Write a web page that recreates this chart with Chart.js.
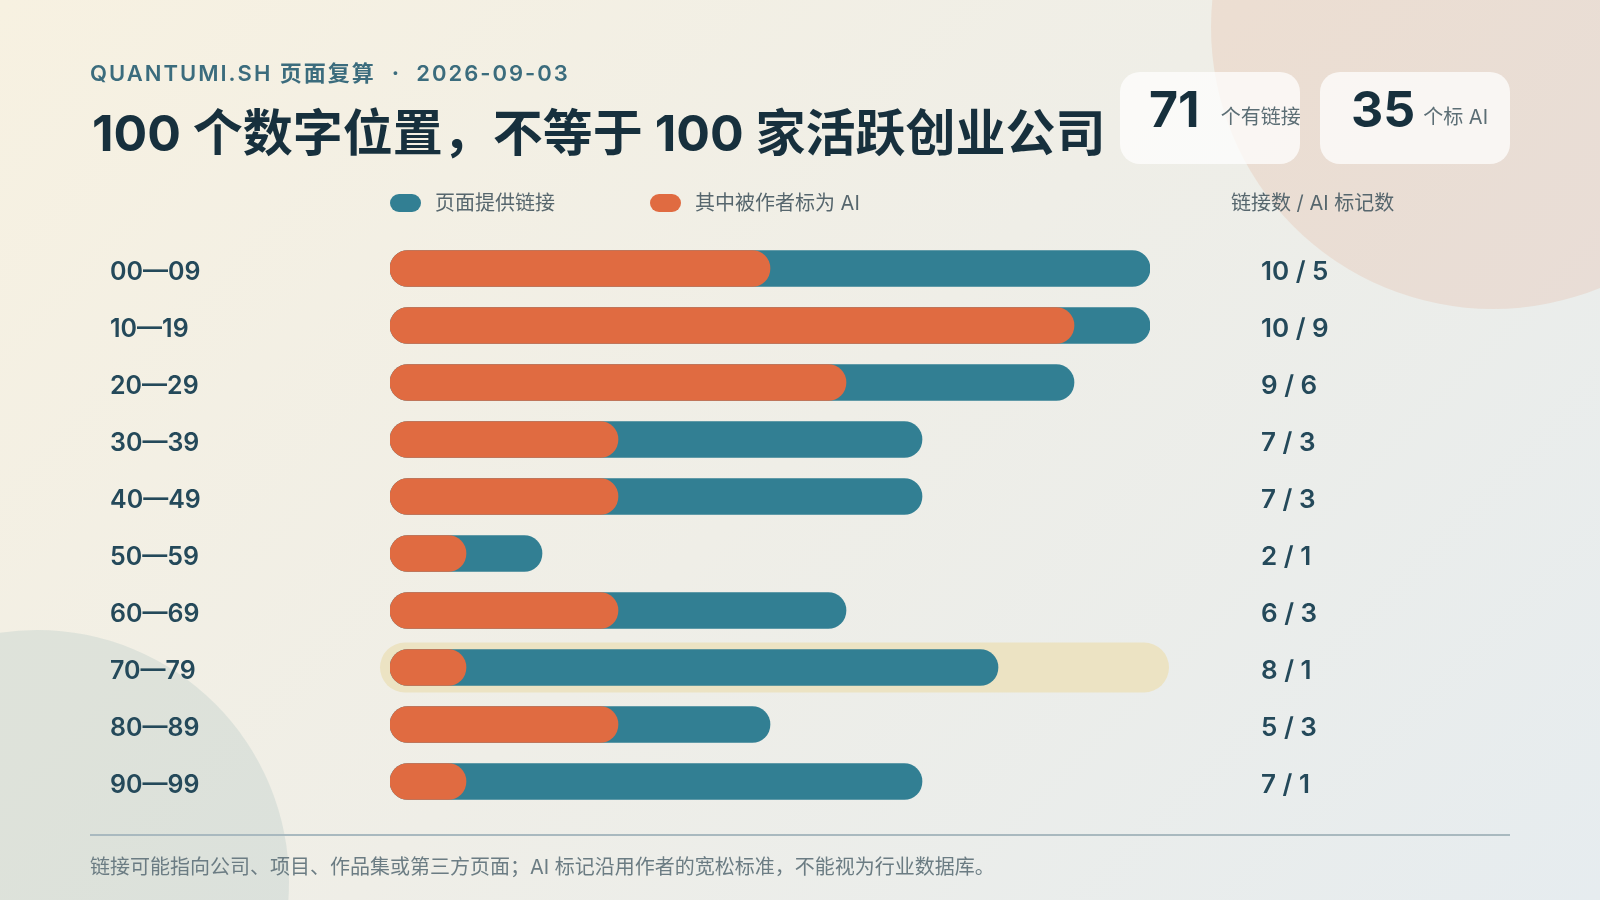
<!DOCTYPE html>
<html lang="zh-CN">
<head>
<meta charset="utf-8">
<title>100 个数字位置</title>
<script src="https://cdn.jsdelivr.net/npm/chart.js@4.4.1/dist/chart.umd.min.js"></script>
<style>
  html, body { margin: 0; padding: 0; }
  body {
    width: 1600px; height: 900px; position: relative; overflow: hidden;
    background: linear-gradient(135deg, #F7F1E1 0%, #EFEEE7 50%, #E6ECEF 100%);
    font-family: Inter, "Noto Sans CJK SC", "Noto Sans", sans-serif;
  }
  .blob { position: absolute; border-radius: 50%; z-index: 0; }
  .blob.tr { left: 1211px; top: -255px; width: 564px; height: 564px; background: rgba(225, 158, 128, 0.2); }
  .blob.bl { left: -215px; top: 630px; width: 504px; height: 504px; background: rgba(150, 182, 184, 0.22); }
  .txt { position: absolute; white-space: nowrap; z-index: 2; }
  #kicker { left: 90px; top: 62px; font-size: 22px; line-height: 22px; font-weight: 600; letter-spacing: 2px; color: #3B6C7D; }
  #kicker .dot { margin: 0 15px 0 16px; font-weight: 700; }
  #title { left: 92px; top: 108px; font-size: 50px; line-height: 50px; font-weight: 700; color: #17303D; }
  .card {
    position: absolute; top: 72px; height: 92px; border-radius: 20px; z-index: 2;
    background: rgba(255, 255, 255, 0.72); box-sizing: border-box; padding-top: 12px;
    display: flex; align-items: baseline; white-space: nowrap;
  }
  .card b { font-size: 50px; line-height: 50px; font-weight: 700; color: #17303D; }
  .card span { font-size: 20px; color: #5C6E75; position: relative; top: -3px; }
  #c1 { left: 1120px; width: 180px; padding-left: 29px; gap: 21px; }
  #c2 { left: 1320px; width: 190px; padding-left: 31px; gap: 8px; }
  .pill { position: absolute; top: 194px; width: 31px; height: 18px; border-radius: 9px; z-index: 2; }
  .leg { top: 192px; font-size: 20px; line-height: 22px; color: #56666D; }
  #rule { position: absolute; left: 90px; top: 834px; width: 1420px; height: 2px; background: #A9B9BF; z-index: 2; }
  #note { left: 90px; top: 856px; font-size: 20px; line-height: 22px; color: #6B7C83; }
  #wrap { position: absolute; left: 0; top: 0; width: 1600px; height: 900px; z-index: 1; }
</style>
</head>
<body>
<div class="blob tr"></div>
<div class="blob bl"></div>

<div id="kicker" class="txt">QUANTUMI.SH 页面复算<span class="dot">·</span>2026-09-03</div>
<div id="title" class="txt">100 个数字位置，不等于 100 家活跃创业公司</div>

<div class="card" id="c1"><b>71</b><span>个有链接</span></div>
<div class="card" id="c2"><b>35</b><span>个标 AI</span></div>

<div class="pill" style="left:390px;background:#327F93"></div>
<div class="txt leg" style="left:435px">页面提供链接</div>
<div class="pill" style="left:650px;background:#E06B41"></div>
<div class="txt leg" style="left:695px">其中被作者标为 AI</div>
<div class="txt leg" style="left:1231px">链接数 / AI 标记数</div>

<div id="wrap"><canvas id="chart"></canvas></div>

<div id="rule"></div>
<div id="note" class="txt">链接可能指向公司、项目、作品集或第三方页面；AI 标记沿用作者的宽松标准，不能视为行业数据库。</div>

<script>
// data
const rangeLabels = ['00—09', '10—19', '20—29', '30—39', '40—49', '50—59', '60—69', '70—79', '80—89', '90—99'];
const linkCounts = [10, 10, 9, 7, 7, 2, 6, 8, 5, 7];
const aiCounts = [5, 9, 6, 3, 3, 1, 3, 1, 3, 1];
const highlightRow = 7;

const valueLabels = linkCounts.map((n, i) => n + ' / ' + aiCounts[i]);

const BLUE = '#327F93';
const ORANGE = '#E06B41';
const INK = '#24495A';

// soft pill behind the highlighted row
const rowHighlight = {
  id: 'rowHighlight',
  beforeDatasetsDraw(chart) {
    const ctx = chart.ctx;
    const x = chart.scales.x, y = chart.scales.y;
    const cy = y.getPixelForValue(highlightRow);
    const left = x.getPixelForValue(0) - 10;
    const right = x.getPixelForValue(x.max) + 19;
    ctx.save();
    ctx.fillStyle = '#ECE3C3';
    ctx.beginPath();
    ctx.roundRect(left, cy - 25, right - left, 50, 25);
    ctx.fill();
    ctx.restore();
  }
};

const tickFont = { family: 'Inter, "Noto Sans CJK SC", sans-serif', size: 25, weight: '600', lineHeight: '8px' };

// empty first line nudges the label a few px below the bar centre, as in the source
function lowered(label) { return ['', label]; }

// keep the axes from adding their label padding to the chart area
function fixedWidth(w) {
  return function (s) {
    s.width = w;
    s.paddingTop = s.paddingBottom = s.paddingLeft = s.paddingRight = 0;
  };
}

new Chart(document.getElementById('chart'), {
  type: 'bar',
  data: {
    labels: rangeLabels,
    datasets: [
      {
        label: '其中被作者标为 AI',
        data: aiCounts,
        backgroundColor: ORANGE
      },
      {
        label: '页面提供链接',
        data: linkCounts,
        backgroundColor: BLUE
      }
    ]
  },
  options: {
    indexAxis: 'y',
    responsive: true,
    maintainAspectRatio: false,
    animation: false,
    datasets: {
      bar: { grouped: false, barThickness: 36, borderRadius: 18, borderSkipped: false }
    },
    layout: { padding: { left: 110, right: 250, top: 240, bottom: 90 } },
    plugins: { legend: { display: false }, tooltip: { enabled: false } },
    scales: {
      x: { min: 0, max: 10, display: false },
      y: {
        position: 'left',
        grid: { display: false, drawTicks: false },
        border: { display: false },
        ticks: {
          crossAlign: 'far', padding: 0, color: INK, font: tickFont,
          callback(v) { return lowered(this.getLabelForValue(v)); }
        },
        afterFit: fixedWidth(280)
      },
      y2: {
        type: 'category',
        labels: valueLabels,
        position: 'right',
        offset: true,
        grid: { display: false, drawTicks: false },
        border: { display: false },
        ticks: {
          crossAlign: 'near', padding: 111, color: INK,
          font: Object.assign({}, tickFont, { size: 26 }),
          callback(v) { return lowered(this.getLabelForValue(v)); }
        },
        afterFit: fixedWidth(200)
      }
    }
  },
  plugins: [rowHighlight]
});
</script>
</body>
</html>
